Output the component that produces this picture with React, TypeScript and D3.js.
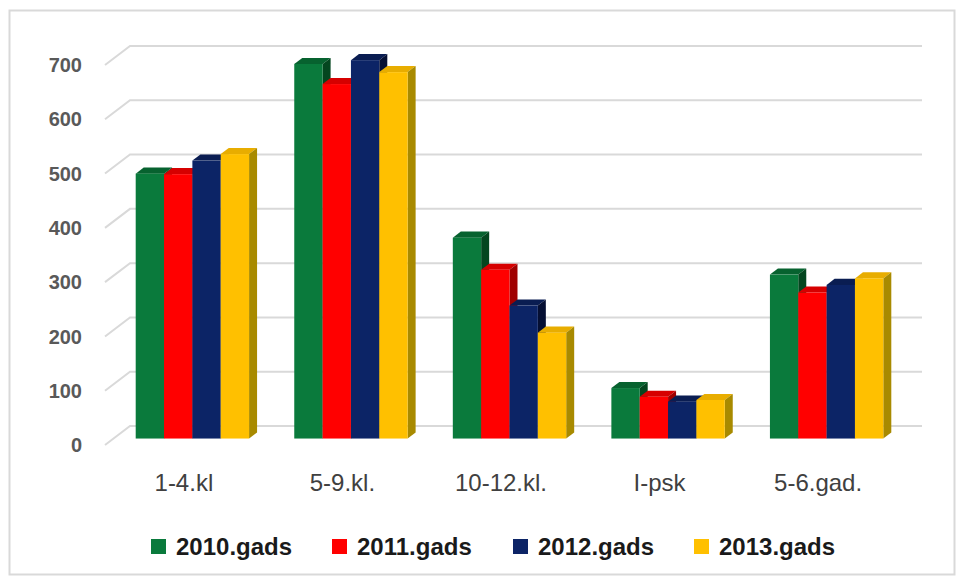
import React from "react";
import * as d3 from "d3";

// dati
const categories = ["1-4.kl", "5-9.kl.", "10-12.kl.", "I-psk", "5-6.gad."];
const seriesNames = ["2010.gads", "2011.gads", "2012.gads", "2013.gads"];
const v2010 = [488, 690, 370, 93, 302];
const v2011 = [487, 653, 311, 77, 269];
const v2012 = [512, 697, 245, 68, 283];
const v2013 = [524, 675, 195, 71, 295];
const yTicks = [0, 100, 200, 300, 400, 500, 600, 700];

const seriesValues = [v2010, v2011, v2012, v2013];
const colors = [
  { front: "#0a7a3c", top: "#07622f", side: "#04461f" },
  { front: "#ff0000", top: "#d60000", side: "#a00000" },
  { front: "#0c2466", top: "#0a1d52", side: "#050f33" },
  { front: "#ffc000", top: "#e8ad00", side: "#a88a00" },
];

const W = 957;
const H = 580;
// perspektīva: priekšējā plakne -> aizmugurējā siena
const DX = 25;
const DY = -19;
const barFront = 0.34; // stabiņa priekšējās sienas dziļums
const barDepth = 0.32;

const App: React.FC = () => {
  const x = d3
    .scaleBand<string>()
    .domain(categories)
    .range([105, 897])
    .paddingInner(0.285)
    .paddingOuter(0.14);
  const xs = d3
    .scaleBand<string>()
    .domain(seriesNames)
    .range([0, x.bandwidth()]);
  const y = d3.scaleLinear().domain([0, 700]).range([445, 65]);

  const fx = barFront * DX;
  const fy = barFront * DY;
  const bx = barDepth * DX;
  const by = barDepth * DY;
  const w = xs.bandwidth();
  const yBot = y(0) + fy;

  return (
    <svg
      width={W}
      height={H}
      style={{ position: "absolute", left: 0, top: 0, background: "#fff" }}
    >
      <rect x={9.5} y={10.5} width={945} height={564} fill="#fff" stroke="#d9d9d9" strokeWidth={2} />

      {/* režģa līnijas */}
      {yTicks.map((t) => (
        <polyline
          key={t}
          points={`105,${y(t)} ${105 + DX},${y(t) + DY} 922,${y(t) + DY}`}
          fill="none"
          stroke="#d9d9d9"
          strokeWidth={2}
        />
      ))}

      {/* ass iezīmes */}
      {yTicks.map((t) => (
        <text
          key={"l" + t}
          x={82}
          y={y(t)}
          dy="0.36em"
          textAnchor="end"
          fontFamily="Liberation Sans, Arial, sans-serif"
          fontWeight="bold"
          fontSize={20}
          fill="#595959"
        >
          {t}
        </text>
      ))}

      {/* stabiņi */}
      {categories.map((c, ci) => (
        <g key={c}>
          {seriesNames.map((s, si) => {
            const v = seriesValues[si][ci];
            const x0 = (x(c) ?? 0) + (xs(s) ?? 0) + fx;
            const yt = y(v) + fy;
            const col = colors[si];
            return (
              <g key={s}>
                <polygon
                  points={`${x0},${yt} ${x0 + bx},${yt + by} ${x0 + w + bx},${yt + by} ${x0 + w},${yt}`}
                  fill={col.top}
                />
                <polygon
                  points={`${x0 + w},${yt} ${x0 + w + bx},${yt + by} ${x0 + w + bx},${yBot + by} ${x0 + w},${yBot}`}
                  fill={col.side}
                />
                <rect x={x0} y={yt} width={w} height={yBot - yt} fill={col.front} />
              </g>
            );
          })}
        </g>
      ))}

      {/* kategoriju nosaukumi */}
      {categories.map((c) => (
        <text
          key={"c" + c}
          x={(x(c) ?? 0) + x.bandwidth() / 2}
          y={491}
          textAnchor="middle"
          fontFamily="Liberation Sans, Arial, sans-serif"
          fontSize={24}
          fill="#404040"
        >
          {c}
        </text>
      ))}

      {/* leģenda */}
      {seriesNames.map((s, i) => (
        <g key={"lg" + s} transform={`translate(${151 + i * 181},539)`}>
          <rect x={0} y={0} width={15} height={15} fill={colors[i].front} />
          <text
            x={25}
            y={16}
            fontFamily="Liberation Sans, Arial, sans-serif"
            fontWeight="bold"
            fontSize={24}
            fill="#1a1a1a"
          >
            {s}
          </text>
        </g>
      ))}
    </svg>
  );
};

export default App;
